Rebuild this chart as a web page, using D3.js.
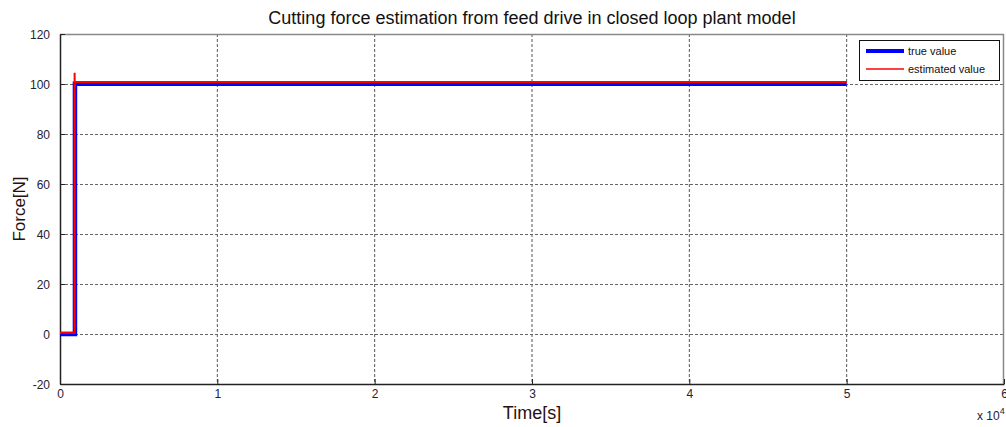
<!DOCTYPE html>
<html>
<head>
<meta charset="utf-8">
<script src="https://cdn.jsdelivr.net/npm/d3@7"></script>
<style>
  html, body { margin: 0; padding: 0; background: #fff; }
  svg { display: block; font-family: "Liberation Sans", Arial, sans-serif; }
</style>
</head>
<body>
<svg id="chart" width="1006" height="427"></svg>
<script>
// Time axis in units of 10^4 s
const xTicks = [0, 1, 2, 3, 4, 5, 6];
const yTicks = [-20, 0, 20, 40, 60, 80, 100, 120];

// True cutting force: step from 0 to 100 N
const trueTime  = [0, 0.095, 0.095, 5];
const trueForce = [0, 0, 100.1, 100.1];

// Estimated force: small overshoot at the step, then settles
const estTime  = [0, 0.093, 0.093, 0.093, 5];
const estForce = [0.5, 0.5, 104.5, 100.8, 100.8];

const legendLabels = ["true value", "estimated value"];

const svg = d3.select("#chart");
const m = { left: 60, right: 1004, top: 34, bottom: 384 };

const x = d3.scaleLinear().domain([0, 6]).range([m.left, m.right]);
const y = d3.scaleLinear().domain([-20, 120]).range([m.bottom, m.top]);

// grid
const grid = svg.append("g");
grid.selectAll("line.v").data(xTicks.slice(1, -1)).join("line")
  .attr("x1", d => x(d)).attr("x2", d => x(d))
  .attr("y1", m.top).attr("y2", m.bottom)
  .attr("stroke", "#555").attr("stroke-width", 1).attr("stroke-dasharray", "3,2");
grid.selectAll("line.h").data(yTicks.slice(1, -1)).join("line")
  .attr("x1", m.left).attr("x2", m.right)
  .attr("y1", d => y(d) + 0.5).attr("y2", d => y(d) + 0.5)
  .attr("stroke", "#666").attr("stroke-width", 1).attr("stroke-dasharray", "3,2");

// frame: top and right in grey
svg.append("line").attr("x1", m.left).attr("x2", m.right).attr("y1", m.top + 0.5).attr("y2", m.top + 0.5)
  .attr("stroke", "#888").attr("stroke-width", 1.5);
svg.append("line").attr("x1", m.right - 0.5).attr("x2", m.right - 0.5).attr("y1", m.top).attr("y2", m.bottom)
  .attr("stroke", "#888").attr("stroke-width", 1.5);

// axes
const fmt = d => String(d);
const xAxis = d3.axisBottom(x).tickValues(xTicks).tickFormat(fmt).tickSizeInner(-5).tickSizeOuter(0).tickPadding(5);
const yAxis = d3.axisLeft(y).tickValues(yTicks).tickFormat(fmt).tickSizeInner(-5).tickSizeOuter(0).tickPadding(10);

const gx = svg.append("g").attr("transform", `translate(0,${m.bottom})`).call(xAxis);
const gy = svg.append("g").attr("transform", `translate(${m.left},0)`).call(yAxis);
[gx, gy].forEach(g => {
  g.select(".domain").attr("stroke", "#222").attr("stroke-width", 1.5);
  g.selectAll(".tick line").attr("stroke", "#222");
  g.selectAll(".tick text").attr("fill", "#222235").attr("font-size", 12)
    .attr("font-family", "'Liberation Sans', Arial, sans-serif");
});
gy.selectAll(".tick text").attr("dy", "0.36em");

// series
const line = d3.line().x(d => x(d[0])).y(d => y(d[1]));
svg.append("path").datum(d3.zip(trueTime, trueForce))
  .attr("d", line).attr("fill", "none").attr("stroke", "#0000ff").attr("stroke-width", 4.5);
svg.append("path").datum(d3.zip(estTime, estForce))
  .attr("d", line).attr("fill", "none").attr("stroke", "#ff0000").attr("stroke-width", 2);

// title and labels
svg.append("text").attr("x", (m.left + m.right) / 2).attr("y", 24)
  .attr("text-anchor", "middle").attr("font-size", 18).attr("fill", "#111")
  .text("Cutting force estimation from feed drive in closed loop plant model");
svg.append("text").attr("x", (m.left + m.right) / 2).attr("y", 419)
  .attr("text-anchor", "middle").attr("font-size", 18).attr("fill", "#2a1010")
  .text("Time[s]");
svg.append("text").attr("transform", `translate(25,${(m.top + m.bottom) / 2}) rotate(-90)`)
  .attr("text-anchor", "middle").attr("font-size", 17).attr("fill", "#2a1010")
  .text("Force[N]");

// exponent label
const ex = svg.append("text").attr("x", 977).attr("y", 420).attr("font-size", 12).attr("fill", "#222235");
ex.append("tspan").text("x 10");
ex.append("tspan").attr("dy", -6).attr("font-size", 9).text("4");

// legend
const lg = svg.append("g");
lg.append("rect").attr("x", 859.5).attr("y", 40.5).attr("width", 140).attr("height", 40)
  .attr("fill", "#fff").attr("stroke", "#111").attr("stroke-width", 1);
const legendStyle = [{ c: "#0000ff", w: 4 }, { c: "#ff0000", w: 1.5 }];
legendLabels.forEach((t, i) => {
  const yy = 51 + i * 18;
  lg.append("line").attr("x1", 866).attr("x2", 904).attr("y1", yy).attr("y2", yy)
    .attr("stroke", legendStyle[i].c).attr("stroke-width", legendStyle[i].w);
  lg.append("text").attr("x", 908).attr("y", yy + 4).attr("font-size", 11).attr("fill", "#111").text(t);
});
</script>
</body>
</html>
